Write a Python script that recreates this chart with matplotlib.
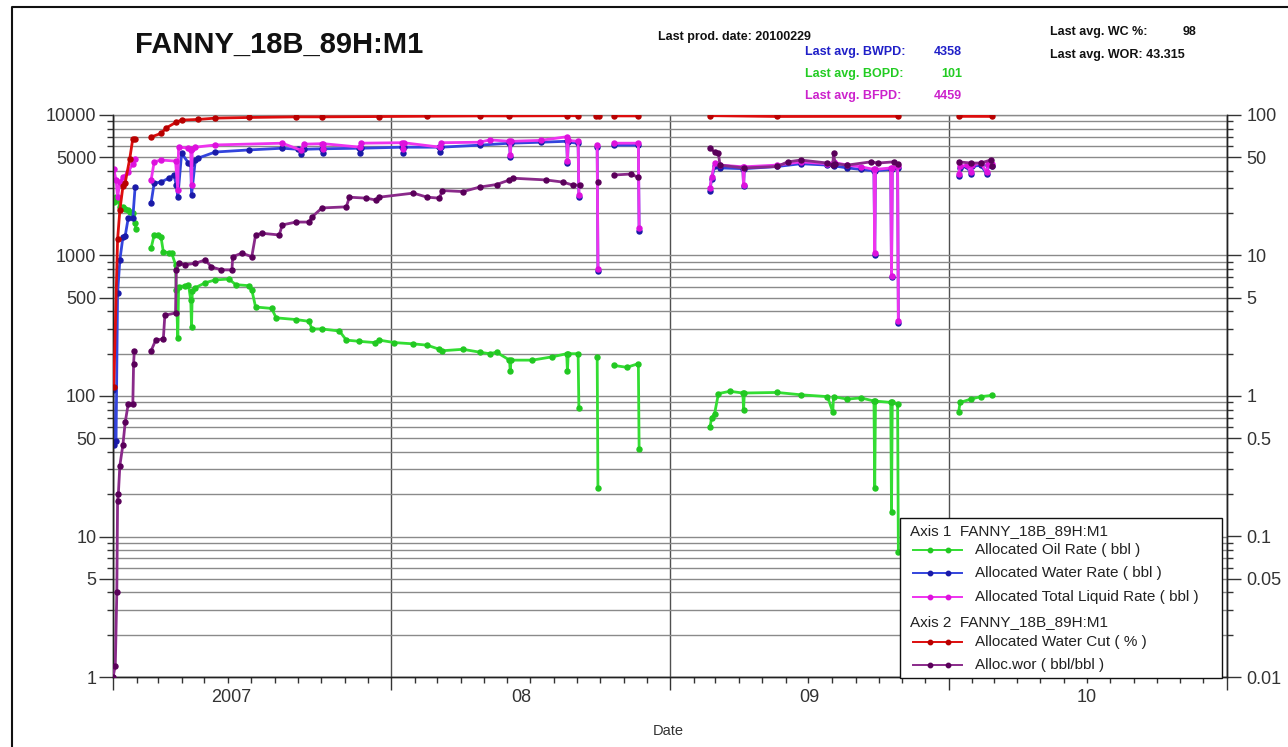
import numpy as np
import pandas as pd
import matplotlib
matplotlib.use("Agg")
import matplotlib.pyplot as plt
import matplotlib.dates as mdates
from matplotlib.ticker import FixedLocator, FixedFormatter, NullFormatter
from matplotlib.lines import Line2D
from matplotlib.patches import Rectangle
from matplotlib.transforms import Affine2D

plt.rcParams['font.family'] = ['Liberation Sans', 'DejaVu Sans']

W, H = 1288, 747
WELL = "FANNY_18B_89H:M1"

# ---- production history (None = no production reported) ----
oil_dates = ['2007-01-02', '2007-01-05', '2007-01-07', '2007-01-10', '2007-01-14', '2007-01-17',
             '2007-01-21', '2007-01-23', '2007-01-27', '2007-01-30', '2007-01-31', '2007-02-10',
             '2007-02-20', '2007-02-24', '2007-03-01', '2007-03-05', '2007-03-08', '2007-03-15',
             '2007-03-19', '2007-03-24', '2007-03-25', '2007-03-27', '2007-03-28', '2007-04-06',
             '2007-04-10', '2007-04-13', '2007-04-14', '2007-04-15', '2007-04-19', '2007-05-02',
             '2007-05-15', '2007-06-02', '2007-06-11', '2007-06-28', '2007-07-02', '2007-07-07',
             '2007-07-28', '2007-08-03', '2007-08-29', '2007-09-15', '2007-09-19', '2007-10-02',
             '2007-10-25', '2007-11-03', '2007-11-20', '2007-12-10', '2007-12-16', '2008-01-05',
             '2008-01-30', '2008-02-17', '2008-03-04', '2008-03-08', '2008-04-04', '2008-04-26',
             '2008-05-09', '2008-05-18', '2008-06-04', '2008-06-05', '2008-06-06', '2008-07-04',
             '2008-07-30', '2008-08-18', '2008-08-19', '2008-08-20', '2008-09-02', '2008-09-03',
             '2008-09-15', '2008-09-27', '2008-09-28', '2008-10-08', '2008-10-19', '2008-11-05',
             '2008-11-20', '2008-11-21', '2009-01-15', '2009-02-22', '2009-02-24', '2009-02-28',
             '2009-03-05', '2009-03-20', '2009-04-06', '2009-04-07', '2009-04-08', '2009-05-21',
             '2009-06-21', '2009-07-26', '2009-08-02', '2009-08-03', '2009-08-21', '2009-09-08',
             '2009-09-25', '2009-09-26', '2009-09-27', '2009-10-17', '2009-10-18', '2009-10-19',
             '2009-10-26', '2009-10-27', '2009-12-01', '2010-01-14', '2010-01-16', '2010-01-30',
             '2010-02-12', '2010-02-27']
oil_bopd = [2400, 2600, 2500, 2200, 2200, 2150,
            2100, 2050, 2000, 1700, 1550, None,
            1130, 1400, 1400, 1350, 1060, 1050,
            1040, 860, 570, 260, 600, 610,
            620, 480, 310, 560, 590, 640,
            670, 680, 620, 610, 570, 430,
            420, 360, 350, 340, 300, 300,
            290, 250, 245, 240, 250, 240,
            235, 230, 215, 210, 215, 205,
            200, 205, 180, 150, 180, 180,
            190, 200, 150, 200, 200, 82,
            None, 190, 22, None, 165, 160,
            170, 42, None, 60, 70, 75,
            104, 108, 105, 80, 105, 106,
            102, 99, 77, 99, 95, 97,
            92, 22, 92, 90, 15, 90,
            88, 7.7, None, 77, 90, 95,
            99, 101]

water_dates = ['2007-01-01', '2007-01-02', '2007-01-05', '2007-01-07', '2007-01-10', '2007-01-14',
               '2007-01-17', '2007-01-21', '2007-01-27', '2007-01-30', '2007-02-10', '2007-02-20',
               '2007-02-24', '2007-03-05', '2007-03-15', '2007-03-22', '2007-03-25', '2007-03-27',
               '2007-04-01', '2007-04-10', '2007-04-13', '2007-04-14', '2007-04-19', '2007-04-23',
               '2007-05-15', '2007-06-28', '2007-08-11', '2007-09-01', '2007-09-05', '2007-09-08',
               '2007-10-02', '2007-10-03', '2007-10-04', '2007-11-20', '2007-11-21', '2007-11-22',
               '2008-01-15', '2008-01-16', '2008-01-17', '2008-03-04', '2008-03-05', '2008-03-06',
               '2008-04-26', '2008-06-04', '2008-06-05', '2008-06-06', '2008-07-15', '2008-08-18',
               '2008-08-19', '2008-08-20', '2008-09-02', '2008-09-03', '2008-09-15', '2008-09-27',
               '2008-09-28', '2008-10-08', '2008-10-19', '2008-11-20', '2008-11-21', '2009-01-15',
               '2009-02-22', '2009-02-24', '2009-02-28', '2009-03-07', '2009-04-06', '2009-04-07',
               '2009-04-08', '2009-05-21', '2009-06-21', '2009-07-26', '2009-08-03', '2009-08-21',
               '2009-09-08', '2009-09-25', '2009-09-26', '2009-09-27', '2009-10-17', '2009-10-18',
               '2009-10-19', '2009-10-26', '2009-10-27', '2009-12-01', '2010-01-14', '2010-01-16',
               '2010-01-25', '2010-01-30', '2010-02-01', '2010-02-12', '2010-02-20', '2010-02-22',
               '2010-02-27']
water_bwpd = [110, 45, 48, 540, 930, 1350,
              1380, 1850, 1850, 3070, None, 2370,
              3280, 3330, 3550, 3740, 3170, 2600,
              5350, 4550, 4500, 2700, 4780, 4940,
              5450, 5640, 5800, 5700, 5300, 5700,
              5750, 5350, 5750, 5800, 5400, 5800,
              5900, 5350, 5900, 5900, 5450, 5900,
              6100, 6300, 5000, 6300, 6400, 6500,
              4550, 6400, 6300, 2600, None, 5900,
              780, None, 6100, 6100, 1500, None,
              2900, 3500, 4300, 4200, 4150, 3100,
              4150, 4300, 4500, 4400, 4350, 4200,
              4100, 4000, 1000, 4000, 4100, 700,
              4100, 4200, 330, None, 3700, 4200,
              4300, 3800, 4300, 4400, 3800, 4400,
              4358]

liquid_dates = ['2007-01-02', '2007-01-05', '2007-01-07', '2007-01-10', '2007-01-14', '2007-01-21',
                '2007-01-27', '2007-01-30', '2007-02-10', '2007-02-20', '2007-02-24', '2007-03-05',
                '2007-03-24', '2007-03-27', '2007-03-28', '2007-04-10', '2007-04-13', '2007-04-14',
                '2007-04-15', '2007-04-19', '2007-05-15', '2007-08-11', '2007-09-05', '2007-09-08',
                '2007-10-02', '2007-10-03', '2007-10-04', '2007-11-21', '2007-11-22', '2008-01-15',
                '2008-01-16', '2008-01-17', '2008-03-05', '2008-03-06', '2008-04-26', '2008-05-09',
                '2008-06-04', '2008-06-05', '2008-06-06', '2008-07-15', '2008-08-18', '2008-08-19',
                '2008-08-20', '2008-09-02', '2008-09-03', '2008-09-15', '2008-09-27', '2008-09-28',
                '2008-10-08', '2008-10-19', '2008-11-20', '2008-11-21', '2009-01-15', '2009-02-22',
                '2009-02-24', '2009-02-28', '2009-03-07', '2009-04-06', '2009-04-07', '2009-04-08',
                '2009-05-21', '2009-06-21', '2009-07-26', '2009-08-03', '2009-08-21', '2009-09-08',
                '2009-09-25', '2009-09-26', '2009-09-27', '2009-10-17', '2009-10-18', '2009-10-19',
                '2009-10-26', '2009-10-27', '2009-12-01', '2010-01-14', '2010-01-16', '2010-01-25',
                '2010-01-30', '2010-02-01', '2010-02-12', '2010-02-20', '2010-02-22', '2010-02-27']
liquid_bfpd = [4100, 3450, 2600, 3330, 3600, 3930,
               4500, 4900, None, 3450, 4640, 4780,
               4700, 2930, 5920, 5800, 5640, 3170,
               5700, 5900, 6120, 6300, 5600, 6200,
               6250, 5700, 6250, 5900, 6300, 6350,
               5700, 6350, 5900, 6350, 6400, 6650,
               6500, 5200, 6500, 6600, 7000, 4700,
               6600, 6500, 2700, None, 6100, 800,
               None, 6300, 6300, 1570, None, 3030,
               3600, 4550, 4400, 4280, 3170, 4280,
               4400, 4640, 4500, 4600, 4400, 4280,
               4100, 1040, 4100, 4200, 720, 4200,
               4300, 340, None, 3800, 4300, 4400,
               3900, 4400, 4550, 3900, 4500, 4459]

wcut_dates = ['2007-01-02', '2007-01-07', '2007-01-10', '2007-01-14', '2007-01-17', '2007-01-23',
              '2007-01-27', '2007-01-30', '2007-02-10', '2007-02-20', '2007-03-05', '2007-03-12',
              '2007-03-25', '2007-04-01', '2007-04-23', '2007-05-15', '2007-06-28', '2007-08-29',
              '2007-10-02', '2007-12-16', '2008-02-17', '2008-04-26', '2008-06-04', '2008-08-18',
              '2008-09-02', '2008-09-15', '2008-09-25', '2008-09-30', '2008-10-08', '2008-10-19',
              '2008-11-20', '2009-01-15', '2009-02-22', '2009-05-21', '2009-10-26', '2009-12-01',
              '2010-01-14', '2010-02-27']
wcut_pct = [1.15, 13, 21, 31, 33, 49,
            68, 68, None, 69.7, 74, 81,
            89, 92, 93, 95, 96, 97,
            97, 97.5, 98, 98.5, 98.5, 98.8,
            98.8, None, 98.5, 98.5, None, 98.5,
            98.5, None, 98.9, 97.6, 97.9, None,
            97.8, 97.7]

wor_dates = ['2007-01-01', '2007-01-04', '2007-01-06', '2007-01-07', '2007-01-08', '2007-01-10',
             '2007-01-14', '2007-01-17', '2007-01-21', '2007-01-27', '2007-01-28', '2007-01-29',
             '2007-02-10', '2007-02-20', '2007-02-26', '2007-03-08', '2007-03-10', '2007-03-24',
             '2007-03-25', '2007-03-28', '2007-04-06', '2007-04-19', '2007-05-02', '2007-05-10',
             '2007-05-23', '2007-06-06', '2007-06-07', '2007-06-19', '2007-07-02', '2007-07-07',
             '2007-07-15', '2007-08-07', '2007-08-11', '2007-08-29', '2007-09-15', '2007-09-19',
             '2007-10-02', '2007-11-03', '2007-11-07', '2007-11-29', '2007-12-12', '2007-12-16',
             '2008-01-30', '2008-02-17', '2008-03-04', '2008-03-08', '2008-04-04', '2008-04-26',
             '2008-05-18', '2008-06-04', '2008-06-08', '2008-07-22', '2008-08-13', '2008-08-26',
             '2008-09-05', '2008-09-15', '2008-09-28', '2008-10-08', '2008-10-19', '2008-11-10',
             '2008-11-20', '2009-01-15', '2009-02-22', '2009-02-28', '2009-03-05', '2009-03-07',
             '2009-04-07', '2009-05-21', '2009-06-04', '2009-06-21', '2009-07-26', '2009-08-02',
             '2009-08-03', '2009-08-05', '2009-08-21', '2009-09-21', '2009-09-30', '2009-10-21',
             '2009-10-26', '2009-12-01', '2010-01-14', '2010-01-30', '2010-02-12', '2010-02-25',
             '2010-02-27']
wor_ratio = [0.01, 0.012, 0.04, 0.18, 0.2, 0.32,
             0.45, 0.65, 0.88, 0.88, 1.7, 2.1,
             None, 2.1, 2.5, 2.55, 3.75, 3.9,
             7.9, 8.8, 8.6, 8.8, 9.3, 8.3,
             7.9, 7.9, 9.8, 10.4, 9.8, 14,
             14.4, 14, 16.5, 17.3, 17.3, 18.8,
             21.8, 22.2, 26, 25.6, 24.8, 26,
             27.8, 26, 25.6, 29, 28.5, 30.7,
             32, 34.5, 35.5, 34.5, 33.3, 31.7,
             31.7, None, 33.4, None, 37.4, 38,
             36, None, 58, 54.5, 53.5, 44,
             42, 43, 46.4, 47.8, 45.5, 44,
             53.5, 45, 44, 46.4, 45.5, 46.4,
             45, None, 46.4, 45.5, 45.5, 47.8,
             43.3]

left_ticks = [1, 5, 10, 50, 100, 500, 1000, 5000, 10000]
right_ticks = [0.01, 0.05, 0.1, 0.5, 1, 5, 10, 50, 100]
right_labels = ['0.01', '0.05', '0.1', '0.5', '1', '5', '10', '50', '100']
year_labels = ['2007', '08', '09', '10']
year_label_dates = ['2007-06-05', '2008-06-20', '2009-07-02', '2010-07-01']

summary_left = [("Last avg. BWPD:", "4358", '#2020c8', 52),
                ("Last avg. BOPD:", "101", '#22cc22', 74),
                ("Last avg. BFPD:", "4459", '#cc22cc', 96)]


def series(dates, values):
    d = pd.to_datetime(dates)
    v = np.array([np.nan if x is None else x for x in values], dtype=float)
    return d, v


fig = plt.figure(figsize=(W / 100, H / 100), dpi=100)
fig.patch.set_facecolor('white')

# pixel-space transform (origin top-left) for annotation furniture
px = Affine2D().scale(1.0 / W, -1.0 / H).translate(0, 1) + fig.transFigure

ax1 = fig.add_axes([113 / W, 1 - 677 / H, (1227 - 113) / W, (677 - 115) / H])
ax2 = ax1.twinx()

styles = {
    'oil': dict(color='#33dd33', mfc='#22c822', mec='#22c822'),
    'water': dict(color='#3344dd', mfc='#1a1aa8', mec='#1a1aa8'),
    'liquid': dict(color='#ee33ee', mfc='#dd11dd', mec='#dd11dd'),
    'wcut': dict(color='#dd0d0d', mfc='#b80000', mec='#b80000'),
    'wor': dict(color='#8a2a8a', mfc='#5a005a', mec='#5a005a'),
}
common = dict(lw=2.0, marker='o', ms=3.6)

d, v = series(oil_dates, oil_bopd)
ax1.plot(d, v, **styles['oil'], **common, zorder=3)
d, v = series(water_dates, water_bwpd)
ax1.plot(d, v, **styles['water'], **common, zorder=4)
d, v = series(liquid_dates, liquid_bfpd)
ax1.plot(d, v, **styles['liquid'], **common, zorder=5)
d, v = series(wcut_dates, wcut_pct)
ax2.plot(d, v, **styles['wcut'], **common, zorder=3)
d, v = series(wor_dates, wor_ratio)
ax2.plot(d, v, **styles['wor'], **common, zorder=4)

# ---- axes ----
x0, x1 = pd.Timestamp('2007-01-01'), pd.Timestamp('2011-01-01')
for ax in (ax1, ax2):
    ax.set_yscale('log')
    ax.set_xlim(x0, x1)
ax1.set_ylim(1, 10000)
ax2.set_ylim(0.01, 100)
ax2.patch.set_visible(False)

ax1.yaxis.set_major_locator(FixedLocator(left_ticks))
ax1.yaxis.set_major_formatter(FixedFormatter([str(t) for t in left_ticks]))
minor_left = [m * 10 ** e for e in range(0, 4) for m in (2, 3, 4, 6, 7, 8, 9)]
ax1.yaxis.set_minor_locator(FixedLocator(minor_left))
ax1.yaxis.set_minor_formatter(NullFormatter())

ax2.yaxis.set_major_locator(FixedLocator(right_ticks))
ax2.yaxis.set_major_formatter(FixedFormatter(right_labels))
minor_right = [m * 10 ** e for e in range(-2, 2) for m in (2, 3, 4, 6, 7, 8, 9)]
ax2.yaxis.set_minor_locator(FixedLocator(minor_right))
ax2.yaxis.set_minor_formatter(NullFormatter())

ax1.xaxis.set_major_locator(mdates.YearLocator())
ax1.xaxis.set_major_formatter(NullFormatter())
ax1.xaxis.set_minor_locator(mdates.MonthLocator())

ax1.yaxis.grid(True, which='both', color='#8a8a8a', lw=1.0)
ax1.xaxis.grid(True, which='major', color='#505050', lw=1.0)
ax1.set_axisbelow(True)

ax1.tick_params(axis='y', which='major', length=10, width=1, labelsize=13, pad=2, colors='#333333')
ax1.tick_params(axis='y', which='minor', length=4, width=1, colors='#333333')
ax2.tick_params(axis='y', which='major', length=10, width=1, labelsize=13, pad=4, colors='#333333')
ax2.tick_params(axis='y', which='minor', length=4, width=1, colors='#333333')
ax1.tick_params(axis='x', which='major', length=9, width=1, colors='#333333')
ax1.tick_params(axis='x', which='minor', length=4, width=1, colors='#333333')
for ax in (ax1, ax2):
    for t in ax.get_yticklabels():
        t.set_color('#333333')
    for s in ax.spines.values():
        s.set_color('#222222')
        s.set_linewidth(1.0)
ax1.spines['top'].set_color('#8a8a8a')
ax2.spines['top'].set_visible(False)

for lab, dt in zip(year_labels, year_label_dates):
    ax1.text(pd.Timestamp(dt), -20 / 562, lab, transform=ax1.get_xaxis_transform(),
             ha='center', va='center', fontsize=13, color='#333333')
fig.text(668 / W, 1 - 731 / H, 'Date', ha='center', va='center', fontsize=10.5, color='#333333')

# ---- header texts ----
fig.text(135 / W, 1 - 45 / H, WELL, ha='left', va='center', fontsize=21, fontweight='bold',
         color='#111111')
fig.text(658 / W, 1 - 37 / H, 'Last prod. date: 20100229', ha='left', va='center',
         fontsize=9, fontweight='bold', color='#111111')
for lab, val, col, y in summary_left:
    fig.text(805 / W, 1 - y / H, lab, ha='left', va='center', fontsize=9, fontweight='bold',
             color=col)
    fig.text(962 / W, 1 - y / H, val, ha='right', va='center', fontsize=9, fontweight='bold',
             color=col)
fig.text(1050 / W, 1 - 32 / H, 'Last avg. WC %:', ha='left', va='center', fontsize=9,
         fontweight='bold', color='#111111')
fig.text(1196 / W, 1 - 32 / H, '98', ha='right', va='center', fontsize=9,
         fontweight='bold', color='#111111')
fig.text(1050 / W, 1 - 55 / H, 'Last avg. WOR: 43.315', ha='left', va='center', fontsize=9,
         fontweight='bold', color='#111111')

# ---- legend box ----
fig.add_artist(Rectangle((900, 518), 322, 160, transform=px, facecolor='white',
                         edgecolor='#111111', lw=1.0, zorder=10))
legend_rows = [
    ('head', 'Axis 1  ' + WELL, None, 531),
    ('item', 'Allocated Oil Rate ( bbl )', 'oil', 550),
    ('item', 'Allocated Water Rate ( bbl )', 'water', 573),
    ('item', 'Allocated Total Liquid Rate ( bbl )', 'liquid', 597),
    ('head', 'Axis 2  ' + WELL, None, 622),
    ('item', 'Allocated Water Cut ( % )', 'wcut', 642),
    ('item', 'Alloc.wor ( bbl/bbl )', 'wor', 665),
]
for kind, label, key, y in legend_rows:
    if kind == 'head':
        fig.text(910 / W, 1 - y / H, label, ha='left', va='center', fontsize=11,
                 color='#222222', zorder=11)
    else:
        st = styles[key]
        fig.add_artist(Line2D([913, 962], [y, y], transform=px, color=st['color'], lw=1.4,
                              zorder=11))
        fig.add_artist(Line2D([930, 948], [y, y], transform=px, ls='none', marker='o', ms=3.2,
                              mfc=st['mfc'], mec=st['mec'], zorder=12))
        fig.text(975 / W, 1 - y / H, label, ha='left', va='center', fontsize=11,
                 color='#222222', zorder=11)

# ---- frame edges (left and top) around the figure ----
fig.add_artist(Line2D([12, 12, 1288], [747, 7, 7], transform=px, color='#111111', lw=1.5,
                      zorder=20))

fig.savefig('out.png', dpi=100)
